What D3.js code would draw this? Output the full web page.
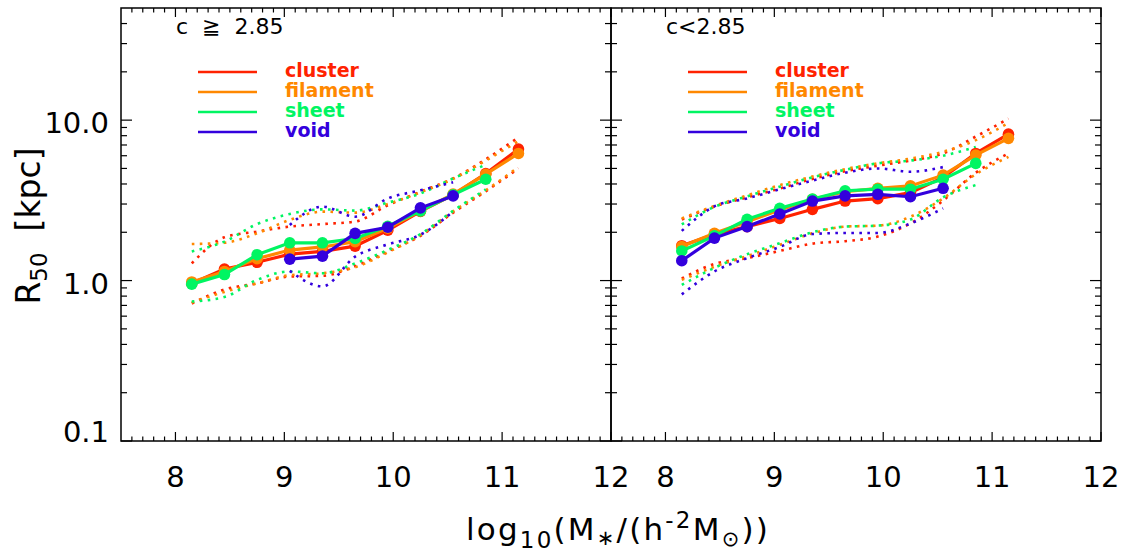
<!DOCTYPE html>
<html><head><meta charset="utf-8">
<script src="https://cdn.jsdelivr.net/npm/d3@7/dist/d3.min.js"></script>
<style>body{margin:0;background:#fff}svg{display:block}</style>
</head><body>
<svg id="chart" width="1130" height="554"></svg>
<script>
// ---------- data ----------
const massBins = [8.15, 8.45, 8.75, 9.05, 9.35, 9.65, 9.95, 10.25, 10.55, 10.85, 11.15];
const envNames = ["cluster", "filament", "sheet", "void"];
const panelLabels = ["c\u00a0\u00a0\u2267\u00a0\u00a02.85", "c<2.85"];
const xTickValues = [8, 9, 10, 11, 12];
const yTickValues = [0.1, 1, 10];
const yTickLabels = ["0.1", "1.0", "10.0"];

// high concentration panel (c >= 2.85): medians
const hiC_cluster  = [0.96, 1.18, 1.30, 1.46, 1.52, 1.64, 2.06, 2.70, 3.42, 4.65, 6.60];
const hiC_filament = [0.98, 1.14, 1.37, 1.55, 1.62, 1.75, 2.12, 2.72, 3.46, 4.60, 6.20];
const hiC_sheet    = [0.95, 1.09, 1.45, 1.72, 1.72, 1.83, 2.18, 2.72, 3.42, 4.28, null];
const hiC_void     = [null, null, null, 1.36, 1.42, 1.97, 2.15, 2.84, 3.37, null, null];
// upper / lower percentiles
const hiC_clusterUp  = [1.28, 1.86, 2.02, 2.17, 2.25, 2.33, 2.95, 3.58, 4.33, 5.70, 7.80];
const hiC_clusterLo  = [0.72, 0.88, 0.96, 1.06, 1.07, 1.23, 1.52, 1.90, 2.65, 3.60, 5.00];
const hiC_filamentUp = [1.69, 1.72, 1.97, 2.39, 2.69, 2.65, 3.00, 3.55, 4.30, 5.60, 7.40];
const hiC_filamentLo = [0.73, 0.85, 0.96, 1.08, 1.11, 1.21, 1.50, 1.92, 2.70, 3.65, 5.10];
const hiC_sheetUp    = [1.52, 1.75, 2.25, 2.60, 2.78, 2.73, 3.06, 3.49, 4.33, 5.27, null];
const hiC_sheetLo    = [0.74, 0.79, 1.01, 1.14, 1.11, 1.28, 1.55, 1.95, 2.72, 3.70, null];
const hiC_voidUp     = [null, null, null, 2.22, 2.89, 2.50, 3.25, 3.65, 4.10, null, null];
const hiC_voidLo     = [null, null, null, 1.15, 0.92, 1.41, 1.68, 1.93, 2.69, null, null];

// low concentration panel (c < 2.85): medians
const loC_cluster  = [1.65, 1.94, 2.17, 2.44, 2.78, 3.13, 3.24, 3.53, 4.40, 6.20, 8.18];
const loC_filament = [1.63, 1.97, 2.33, 2.75, 3.21, 3.58, 3.76, 3.89, 4.54, 6.05, 7.70];
const loC_sheet    = [1.53, 1.90, 2.41, 2.82, 3.22, 3.63, 3.71, 3.71, 4.28, 5.38, null];
const loC_void     = [1.33, 1.84, 2.17, 2.60, 3.13, 3.37, 3.45, 3.33, 3.76, null, null];
// upper / lower percentiles
const loC_clusterUp  = [2.40, 2.89, 3.30, 3.75, 4.30, 4.80, 5.20, 5.60, 6.20, 7.90, 10.2];
const loC_clusterLo  = [1.03, 1.27, 1.38, 1.53, 1.70, 1.76, 1.88, 2.27, 3.15, 4.70, 6.20];
const loC_filamentUp = [2.44, 2.92, 3.40, 3.94, 4.45, 4.95, 5.38, 5.76, 6.35, 7.50, 9.60];
const loC_filamentLo = [1.01, 1.22, 1.42, 1.67, 1.97, 2.17, 2.20, 2.50, 3.25, 4.60, 5.90];
const loC_sheetUp    = [2.24, 2.88, 3.35, 3.85, 4.40, 4.90, 5.38, 5.60, 6.00, 6.80, null];
const loC_sheetLo    = [0.94, 1.20, 1.46, 1.71, 2.00, 2.17, 2.20, 2.40, 3.30, 3.94, null];
const loC_voidUp     = [2.04, 2.90, 3.25, 3.71, 4.20, 4.70, 5.00, 4.77, 5.10, null, null];
const loC_voidLo     = [0.82, 1.14, 1.38, 1.62, 1.95, 1.98, 1.98, 2.27, 2.82, null, null];

// ---------- styling / layout ----------
const envColors = ["#ff2200", "#ff8800", "#00f562", "#3300dd"];
const FONT = "'DejaVu Sans', sans-serif";
const yTop = 8, yBot = 441;
const panelX = [[121, 611], [611, 1101]];

const panels = [
  { label: panelLabels[0],
    med: [hiC_cluster, hiC_filament, hiC_sheet, hiC_void],
    up:  [hiC_clusterUp, hiC_filamentUp, hiC_sheetUp, hiC_voidUp],
    lo:  [hiC_clusterLo, hiC_filamentLo, hiC_sheetLo, hiC_voidLo] },
  { label: panelLabels[1],
    med: [loC_cluster, loC_filament, loC_sheet, loC_void],
    up:  [loC_clusterUp, loC_filamentUp, loC_sheetUp, loC_voidUp],
    lo:  [loC_clusterLo, loC_filamentLo, loC_sheetLo, loC_voidLo] }
];

const svg = d3.select("#chart");
const y = d3.scaleLog().domain([0.1, 50]).range([yBot, yTop]);

const xMinor = d3.range(76, 120).map(i => i / 10).filter(v => Math.abs(v - Math.round(v)) > 1e-6);
const yMinor = [0.2,0.3,0.4,0.5,0.6,0.7,0.8,0.9,2,3,4,5,6,7,8,9,20,30,40];

panels.forEach((p, pi) => {
  const [x0, x1] = panelX[pi];
  const x = d3.scaleLinear().domain([7.5, 12]).range([x0, x1]);
  const g = svg.append("g");

  const pts = arr => massBins.map((m, i) => [m, arr[i]]);
  const line = d3.line().defined(d => d[1] != null).x(d => x(d[0])).y(d => y(d[1]));
  const curve = d3.line().defined(d => d[1] != null).x(d => x(d[0])).y(d => y(d[1])).curve(d3.curveMonotoneX);

  // dotted percentile envelopes
  envNames.forEach((e, ei) => {
    [p.up[ei], p.lo[ei]].forEach(arr => {
      g.append("path").attr("d", curve(pts(arr)))
        .attr("fill", "none").attr("stroke", envColors[ei])
        .attr("stroke-width", 2.6).attr("stroke-dasharray", "2.6,5.4");
    });
  });
  // medians
  envNames.forEach((e, ei) => {
    const data = pts(p.med[ei]);
    g.append("path").attr("d", line(data))
      .attr("fill", "none").attr("stroke", envColors[ei]).attr("stroke-width", 3.2);
    g.selectAll(null).data(data.filter(d => d[1] != null)).enter().append("circle")
      .attr("cx", d => x(d[0])).attr("cy", d => y(d[1])).attr("r", 5.8)
      .attr("fill", envColors[ei]);
  });

  // frame
  g.append("rect").attr("x", x0).attr("y", yTop).attr("width", x1 - x0).attr("height", yBot - yTop)
    .attr("fill", "none").attr("stroke", "#000").attr("stroke-width", 1.5);

  const tk = g.append("g").attr("stroke", "#000").attr("stroke-width", 1.2);
  xTickValues.forEach(v => {
    tk.append("line").attr("x1", x(v)).attr("x2", x(v)).attr("y1", yBot).attr("y2", yBot - 9);
    tk.append("line").attr("x1", x(v)).attr("x2", x(v)).attr("y1", yTop).attr("y2", yTop + 9);
  });
  xMinor.forEach(v => {
    tk.append("line").attr("x1", x(v)).attr("x2", x(v)).attr("y1", yBot).attr("y2", yBot - 4.5);
    tk.append("line").attr("x1", x(v)).attr("x2", x(v)).attr("y1", yTop).attr("y2", yTop + 4.5);
  });
  yTickValues.forEach(v => {
    tk.append("line").attr("x1", x0).attr("x2", x0 + 11).attr("y1", y(v)).attr("y2", y(v));
    tk.append("line").attr("x1", x1).attr("x2", x1 - 11).attr("y1", y(v)).attr("y2", y(v));
  });
  yMinor.forEach(v => {
    tk.append("line").attr("x1", x0).attr("x2", x0 + 6).attr("y1", y(v)).attr("y2", y(v));
    tk.append("line").attr("x1", x1).attr("x2", x1 - 6).attr("y1", y(v)).attr("y2", y(v));
  });

  // x tick labels
  g.selectAll(null).data(xTickValues).enter().append("text")
    .attr("x", d => x(d)).attr("y", 487).attr("text-anchor", "middle")
    .attr("font-family", FONT).attr("font-size", 29).attr("fill", "#000")
    .text(d => d);

  // y tick labels (left panel only)
  if (pi === 0) {
    g.selectAll(null).data(yTickValues).enter().append("text")
      .attr("x", x0 - 12).attr("y", d => Math.min(y(d) + 13, yBot + 1)).attr("text-anchor", "end")
      .attr("font-family", FONT).attr("font-size", 29).attr("fill", "#000")
      .text((d, i) => yTickLabels[i]);
  }

  // panel label
  g.append("text").attr("x", x0 + 55).attr("y", 34)
    .attr("font-family", FONT).attr("font-size", 22).attr("fill", "#000").text(p.label);

  // legend
  envNames.forEach((e, ei) => {
    const ly = 72 + ei * 20;
    g.append("line").attr("x1", x0 + 77).attr("x2", x0 + 136).attr("y1", ly).attr("y2", ly)
      .attr("stroke", envColors[ei]).attr("stroke-width", 2.6);
    g.append("text").attr("x", x0 + 164).attr("y", ly + 5)
      .attr("font-family", FONT).attr("font-size", 19).attr("font-weight", "bold")
      .attr("fill", envColors[ei]).text(e);
  });
});

// x axis title
const xt = svg.append("text").attr("x", 618).attr("y", 540).attr("text-anchor", "middle")
  .attr("font-family", FONT).attr("font-size", 31).attr("letter-spacing", 2.2).attr("fill", "#000");
xt.append("tspan").text("log");
xt.append("tspan").attr("font-size", 23).attr("dy", 8).text("10");
xt.append("tspan").attr("dy", -8).text("(M");
xt.append("tspan").attr("font-size", 21).attr("dy", 5).text("\u2217");
xt.append("tspan").attr("dy", -5).text("/(h");
xt.append("tspan").attr("font-size", 23).attr("dy", -12).text("-2");
xt.append("tspan").attr("dy", 12).text("M");
xt.append("tspan").attr("font-size", 21).attr("dy", 6).text("\u2299");
xt.append("tspan").attr("dy", -6).text("))");

// y axis title
const yt = svg.append("text").attr("transform", "translate(40,226) rotate(-90)")
  .attr("text-anchor", "middle").attr("font-family", FONT).attr("font-size", 33).attr("fill", "#000");
yt.append("tspan").text("R");
yt.append("tspan").attr("font-size", 23).attr("dy", 7).text("50");
yt.append("tspan").attr("dy", -7).text("\u00a0\u00a0[kpc]");
</script>
</body></html>
